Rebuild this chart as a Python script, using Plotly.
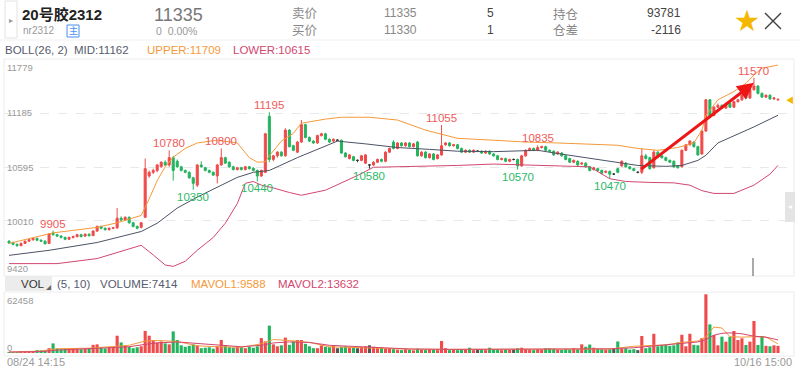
import plotly.graph_objects as go

# ---------------- data ----------------
opens = [9790,9775,9755,9740,9765,9790,9805,9820,9800,9790,
9765,9880,9860,9845,9830,9810,9830,9840,9860,9845,
9865,9850,9900,9950,9930,9915,9930,9935,10040,10020,
10050,9990,9950,9940,10050,10500,10540,10560,10600,10650,
10620,10700,10660,10600,10560,10540,10480,10400,10620,10590,
10560,10540,10500,10620,10700,10650,10600,10570,10590,10570,
10600,10585,10560,10500,10540,11150,10680,10720,10760,10720,
11000,10830,10760,10870,11060,10920,10880,10860,10940,10960,
10900,10880,10890,10890,10750,10690,10710,10670,10670,10640,
10620,10620,10650,10680,10660,10760,10870,10800,10860,10830,
10860,10820,10870,10720,10760,10700,10740,10690,10730,10840,
10860,10830,10840,10800,10760,10780,10760,10770,10770,10750,
10770,10740,10720,10680,10690,10660,10680,10680,10610,10720,
10780,10800,10780,10810,10820,10780,10770,10740,10750,10720,
10690,10650,10660,10630,10640,10600,10570,10580,10560,10540,
10550,10520,10580,10610,10640,10600,10580,10540,10540,10720,
10700,10590,10760,10720,10700,10670,10660,10610,10600,10780,
10840,10870,10820,10740,10990,11330,11160,11250,11270,11240,
11290,11250,11310,11330,11380,11350,11440,11480,11400,11360,
11380,11340,11330]
highs = [9800,9785,9765,9775,9795,9815,9830,9830,9810,9800,
9875,9905,9870,9855,9840,9840,9850,9870,9870,9875,
9875,9910,9960,9960,9940,9940,9945,10150,10060,10060,
10060,10000,9960,10000,10690,10560,10580,10630,10660,10670,
10780,10720,10680,10610,10570,10550,10490,10630,10660,10600,
10570,10550,10630,10800,10710,10660,10610,10600,10600,10610,
10610,10595,10570,10570,10970,11195,10730,10770,10770,11020,
11010,10840,10880,11110,11070,10930,10890,10950,10970,10970,
10910,10910,10900,10895,10760,10740,10720,10680,10730,10740,
10630,10660,10690,10690,10770,10810,10890,10870,10870,10870,
10870,10860,10880,10770,10770,10750,10750,10740,11055,10870,
10870,10850,10850,10810,10790,10790,10790,10780,10780,10780,
10780,10750,10730,10700,10700,10690,10690,10690,10730,10790,
10810,10810,10835,10830,10830,10790,10780,10770,10760,10730,
10700,10680,10670,10650,10650,10610,10600,10590,10570,10560,
10560,10530,10590,10670,10650,10610,10590,10550,10800,10740,
10710,10780,10770,10730,10710,10680,10670,10620,10790,10850,
10890,10880,10830,11000,11340,11340,11260,11290,11280,11300,
11300,11320,11340,11390,11390,11450,11570,11490,11410,11390,
11390,11360,11345]
lows = [9760,9745,9730,9735,9760,9780,9795,9790,9780,9755,
9760,9850,9835,9820,9800,9805,9820,9830,9830,9835,
9840,9845,9890,9920,9905,9905,9920,9925,10010,10010,
9980,9940,9920,9930,10040,10480,10520,10540,10590,10610,
10600,10450,10590,10550,10530,10470,10350,10380,10590,10550,
10530,10500,10420,10610,10630,10590,10560,10560,10560,10560,
10570,10550,10440,10490,10530,10650,10660,10700,10710,10710,
10810,10770,10750,10860,10910,10870,10850,10850,10930,10890,
10860,10870,10880,10740,10700,10680,10660,10650,10660,10630,
10580,10610,10640,10650,10650,10750,10790,10790,10820,10820,
10810,10810,10710,10710,10690,10690,10670,10680,10720,10830,
10820,10820,10790,10750,10750,10750,10750,10760,10740,10740,
10730,10710,10670,10670,10650,10650,10670,10570,10600,10710,
10770,10770,10770,10800,10770,10760,10720,10730,10710,10670,
10640,10640,10610,10620,10590,10550,10560,10550,10520,10530,
10470,10510,10530,10600,10590,10570,10550,10530,10520,10680,
10570,10580,10700,10690,10660,10640,10590,10580,10590,10770,
10830,10810,10720,10730,10980,11140,11150,11240,11230,11230,
11240,11240,11300,11320,11340,11340,11430,11390,11350,11350,
11330,11330,11320]
closes = [9770,9755,9740,9765,9790,9805,9820,9800,9790,9760,
9870,9860,9845,9830,9810,9830,9840,9860,9840,9865,
9850,9900,9950,9930,9915,9930,9935,10040,10020,10050,
9990,9950,9930,9990,10580,10540,10560,10620,10650,10620,
10700,10560,10600,10560,10540,10480,10420,10620,10600,10560,
10540,10510,10620,10700,10640,10600,10570,10590,10570,10600,
10580,10560,10500,10560,10960,10680,10720,10760,10720,11000,
10820,10780,10870,11060,10920,10880,10860,10940,10960,10900,
10870,10900,10890,10750,10710,10730,10670,10670,10720,10730,
10620,10650,10680,10660,10760,10800,10800,10860,10830,10860,
10820,10850,10720,10760,10700,10740,10680,10730,10830,10860,
10830,10840,10800,10760,10780,10760,10780,10770,10750,10770,
10740,10720,10680,10690,10660,10680,10680,10610,10720,10780,
10800,10780,10810,10820,10780,10770,10730,10760,10720,10680,
10650,10670,10620,10640,10600,10560,10590,10560,10530,10550,
10520,10520,10540,10660,10600,10580,10560,10540,10720,10690,
10580,10760,10710,10700,10670,10650,10600,10590,10780,10840,
10880,10820,10730,10990,11330,11150,11250,11270,11240,11290,
11250,11310,11330,11380,11350,11440,11480,11400,11360,11380,
11340,11350,11335]
volumes = [900,1000,800,1200,1100,1300,1500,3000,2800,3200,
5000,10000,4500,4000,4800,4200,5200,4600,3900,4400,
5000,8500,9000,5500,4800,6000,5200,18000,11000,8000,
6500,5000,6000,7000,23000,18000,13500,11000,12000,10000,
9000,22500,13500,8000,6500,7500,9000,8000,5000,5500,
6000,4500,7000,13500,8000,6000,5500,7000,6000,5000,
6500,5500,7000,15500,12000,28500,9000,7000,8000,16000,
8500,12000,13500,13500,9500,7000,5000,5000,8000,6500,
6000,7500,5000,6500,7000,6000,5500,5000,6500,7000,
8000,6500,5500,6000,4500,5000,4000,3500,3000,4000,
3500,2800,4500,3500,3000,4000,3200,3000,12500,5000,
3000,3500,3000,3200,3500,5500,3000,3500,4000,3000,
5500,4000,3500,3000,3500,3200,3800,5000,5500,4000,
3500,3000,4000,3500,5000,4800,4500,3500,3200,4000,
3500,5000,4000,9000,6500,8800,5500,4500,4000,3500,
3800,4200,12000,4500,5000,3500,4000,3000,17700,5000,
6000,20000,7000,8000,8500,7500,8000,11000,19000,7000,
20000,8500,8000,15500,61100,29800,18700,8000,17000,11800,
17000,22900,13500,15300,8300,11800,33300,8300,17700,7500,
7000,8000,7414]

# Bollinger band readings (candle index -> value)
upper_idx = [0,11,22,27,33,35,37,39,41,44,47,52,57,60,62,64,65,68,71,73,79,83,90,97,104,112,121,129,137,152,157,162,167,171,173,174,177,181,184,186,188,192]
upper_val = [9765,9880,9940,9990,10070,10250,10450,10600,10705,10800,10860,10890,10860,10700,10650,10655,10720,10880,10965,11075,11120,11140,11140,11110,11000,10910,10890,10870,10860,10835,10800,10780,10810,10860,11000,11160,11330,11420,11510,11600,11675,11709]
mid_idx = [0,10,22,33,37,42,47,52,57,61,65,72,77,82,89,97,105,112,121,129,132,137,145,152,157,164,168,172,174,177,182,186,192]
mid_val = [9635,9690,9775,9895,9985,10150,10270,10375,10485,10540,10560,10700,10790,10880,10850,10810,10790,10770,10765,10770,10780,10745,10690,10650,10615,10605,10615,10670,10725,10860,10955,11035,11162]
lower_idx = [0,12,22,30,33,36,39,41,44,47,51,54,57,59,61,63,66,70,73,79,87,91,104,112,121,129,137,145,150,154,160,166,170,173,176,181,186,190,192]
lower_val = [9545,9545,9600,9710,9745,9640,9530,9515,9570,9690,9830,9985,10200,10420,10440,10400,10370,10320,10290,10345,10505,10595,10605,10615,10630,10620,10615,10600,10470,10440,10430,10425,10400,10340,10310,10310,10400,10520,10615]

# MAVOL readings
mavol_idx = [0,8,12,20,27,30,34,37,42,47,52,58,63,66,70,75,80,90,100,110,120,130,140,150,156,160,164,168,172,174,176,178,180,183,186,189,192]
mavol1 = [1000,2000,4500,5000,7000,8000,12500,13000,12000,7500,6500,6000,9500,14000,13000,11000,6500,5500,4000,3800,3800,3800,4500,4200,7000,8000,8500,11000,12500,17000,27000,26000,17000,16500,17000,16500,9588]
mavol2 = [1000,1500,3000,4500,5500,6500,9000,10500,11500,10000,8000,6500,8000,10500,11500,11000,8000,6000,4200,3800,3800,3700,4000,4300,5500,7000,8500,10000,11500,14000,18500,20500,21000,20000,17500,16500,13632]

# marked highs / lows
marks = [(11,'H'),(40,'H'),(46,'L'),(53,'H'),(62,'L'),(65,'H'),(90,'L'),(108,'H'),(127,'L'),(132,'H'),(150,'L'),(186,'H')]

price_ticks = [10010, 10595, 11185]
axis_labels = ["11779", "11185", "10595", "10010", "9420"]

# ---------------- styling ----------------
W, H = 801, 376
RED = "#f04a4a"
GREEN = "#23b45e"
ORANGE = "#f59a3a"
PINK = "#d2476f"
MIDC = "#4d5366"
FONT = "Liberation Sans, Arial, Noto Sans CJK SC, sans-serif"

N = len(closes)
idx = list(range(N))
norm = [i for i in idx if opens[i] != closes[i]]
doji = [i for i in idx if opens[i] == closes[i]]

fig = go.Figure()

# Bollinger lines
fig.add_trace(go.Scatter(x=upper_idx, y=upper_val, mode="lines", line=dict(color=ORANGE, width=1), hoverinfo="skip"))
fig.add_trace(go.Scatter(x=mid_idx, y=mid_val, mode="lines", line=dict(color=MIDC, width=1), hoverinfo="skip"))
fig.add_trace(go.Scatter(x=lower_idx, y=lower_val, mode="lines", line=dict(color=PINK, width=1), hoverinfo="skip"))

fig.add_trace(go.Candlestick(
    x=norm, open=[opens[i] for i in norm], high=[highs[i] for i in norm],
    low=[lows[i] for i in norm], close=[closes[i] for i in norm],
    increasing=dict(line=dict(color=RED, width=1), fillcolor=RED),
    decreasing=dict(line=dict(color=GREEN, width=1), fillcolor=GREEN),
    hoverinfo="skip", xaxis="x", yaxis="y"))
fig.add_trace(go.Candlestick(
    x=doji, open=[opens[i] for i in doji], high=[highs[i] for i in doji],
    low=[lows[i] for i in doji], close=[closes[i] for i in doji],
    increasing=dict(line=dict(color="#333333", width=1), fillcolor="#333333"),
    decreasing=dict(line=dict(color="#333333", width=1), fillcolor="#333333"),
    hoverinfo="skip", xaxis="x", yaxis="y"))

vcolors = [RED if closes[i] > opens[i] else (GREEN if closes[i] < opens[i] else "#555555") for i in idx]
fig.add_trace(go.Bar(x=idx, y=volumes, marker=dict(color=vcolors, line=dict(width=0)),
                     xaxis="x2", yaxis="y2", hoverinfo="skip"))
fig.add_trace(go.Scatter(x=mavol_idx, y=mavol1, mode="lines", line=dict(color=ORANGE, width=1),
                         xaxis="x2", yaxis="y2", hoverinfo="skip"))
fig.add_trace(go.Scatter(x=mavol_idx, y=mavol2, mode="lines", line=dict(color=PINK, width=1),
                         xaxis="x2", yaxis="y2", hoverinfo="skip"))

def px(x): return x / W
def py(y): return 1 - y / H

ann = []
shapes = []
def T(x, y, s, size=11, color="#888", xa="left", ya="middle", fam=FONT):
    ann.append(dict(x=px(x), y=py(y), xref="paper", yref="paper", text=s, showarrow=False,
                    xanchor=xa, yanchor=ya, font=dict(size=size, color=color, family=fam), borderpad=0))
def R(x0, y0, x1, y1, line="#e6e6e6", fill="rgba(0,0,0,0)", lw=1):
    shapes.append(dict(type="rect", xref="paper", yref="paper", x0=px(x0), x1=px(x1), y0=py(y1), y1=py(y0),
                       line=dict(color=line, width=lw), fillcolor=fill, layer="below"))
def L(x0, y0, x1, y1, color="#444", lw=1, layer="above"):
    shapes.append(dict(type="line", xref="paper", yref="paper", x0=px(x0), x1=px(x1), y0=py(y0), y1=py(y1),
                       line=dict(color=color, width=lw), layer=layer))

# header
R(5, 1, 17, 38, line="#e2e2e2")
T(11, 20, "▸", 8, "#999", xa="center")
T(21, 15, "<b>20号胶2312</b>", 15, "#222")
T(22, 31, "nr2312", 10, "#999")
R(67, 25, 79, 37, line="#4a8ef0")
T(73, 31, "主", 9, "#4a8ef0", xa="center")
T(153, 15, "11335", 18, "#777")
T(155, 31, "0  0.00%", 10.5, "#999")
T(291, 14, "卖价", 12.5, "#888")
T(291, 31, "买价", 12.5, "#888")
T(383, 13, "11335", 12, "#888")
T(383, 30, "11330", 12, "#888")
T(486, 13, "5", 12, "#444")
T(486, 30, "1", 12, "#444")
T(552, 14, "持仓", 12.5, "#888")
T(552, 31, "仓差", 12.5, "#888")
T(682, 13, "93781", 12, "#444", xa="right")
T(682, 30, "-2116", 12, "#444", xa="right")
T(747, 20, "★", 24, "#f5b800", xa="center")
L(765, 13, 781, 29, "#444", 1.5)
L(765, 29, 781, 13, "#444", 1.5)
L(0, 40, 801, 40, "#f0f0f0", 1, "below")

# legend rows
T(4, 50, "BOLL(26, 2)  MID:11162", 11.5, "#565b6e")
T(146, 50, "UPPER:11709", 11.5, ORANGE)
T(232, 50, "LOWER:10615", 11.5, PINK)

R(4, 59, 794, 276, line="#ececec")
R(4, 292, 794, 356, line="#ececec")
R(5, 276, 52, 291, line="rgba(0,0,0,0)", fill="#ececec")
T(20, 283.5, "VOL", 11.5, "#333")
T(48, 287, "◢", 5, "#666", xa="center")
T(56, 283.5, "(5, 10)", 11.5, "#565b6e")
T(99, 283.5, "VOLUME:7414", 11.5, "#565b6e")
T(190, 283.5, "MAVOL1:9588", 11.5, ORANGE)
T(277, 283.5, "MAVOL2:13632", 11.5, PINK)

# axis labels
lab_y = [67, 113, 167, 221, 268]
for s, yy in zip(axis_labels, lab_y):
    T(6, yy, s, 9.5, "#9a9a9a")
T(6, 300, "62458", 9.5, "#9a9a9a")
T(6, 347, "0", 9.5, "#9a9a9a")
T(6, 362, "08/24 14:15", 11, "#9a9a9a")
T(793, 362, "10/16 15:00", 11, "#9a9a9a", xa="right")

# right side markers
R(785, 192, 795, 222, line="rgba(0,0,0,0)", fill="#e4e4e4")
T(790, 207, "◂", 8, "#ffffff", xa="center")
T(790, 100, "◀", 8, "#f5b800", xa="center")
L(753, 258, 753, 276, "#555", 1)

# high/low labels in data coordinates
for i, k in marks:
    if k == 'H':
        ann.append(dict(x=i, y=highs[i], xref="x", yref="y", text=str(highs[i]), showarrow=False,
                        xanchor="center", yanchor="bottom", font=dict(size=11.5, color="#f05a5a", family=FONT), borderpad=0))
    else:
        ann.append(dict(x=i, y=lows[i], xref="x", yref="y", text=str(lows[i]), showarrow=False,
                        xanchor="center", yanchor="top", font=dict(size=11.5, color="#2db868", family=FONT), borderpad=0))

# hand-drawn red arrow
ann.append(dict(x=186, y=11515, ax=157.5, ay=10562, xref="x", yref="y", axref="x", ayref="y",
                text="", showarrow=True, arrowhead=2, arrowsize=1.1, arrowwidth=3, arrowcolor="#ee1515", standoff=0))

fig.update_layout(
    width=W, height=H, margin=dict(l=0, r=0, t=0, b=0),
    paper_bgcolor="white", plot_bgcolor="rgba(0,0,0,0)",
    showlegend=False, bargap=0.22, boxgap=0.28, hovermode=False,
    xaxis=dict(domain=[px(4), px(794)], range=[-1.25, 196], visible=False, anchor="y",
               rangeslider=dict(visible=False)),
    yaxis=dict(domain=[py(276), py(59)], range=[9410, 11775], tickvals=price_ticks,
               showticklabels=False, showgrid=True, gridcolor="#e8e8e8", griddash="dash",
               zeroline=False, showline=False, anchor="x"),
    xaxis2=dict(domain=[px(4), px(794)], range=[-1.25, 196], visible=False, anchor="y2", matches="x"),
    yaxis2=dict(domain=[py(353), py(293)], range=[0, 62458], showticklabels=False, showgrid=False,
                zeroline=False, anchor="x2"),
    annotations=ann, shapes=shapes,
)

fig.write_html("out.html", config={"displayModeBar": False},
               post_script="document.body.style.margin='0px';document.body.style.overflow='hidden';")
